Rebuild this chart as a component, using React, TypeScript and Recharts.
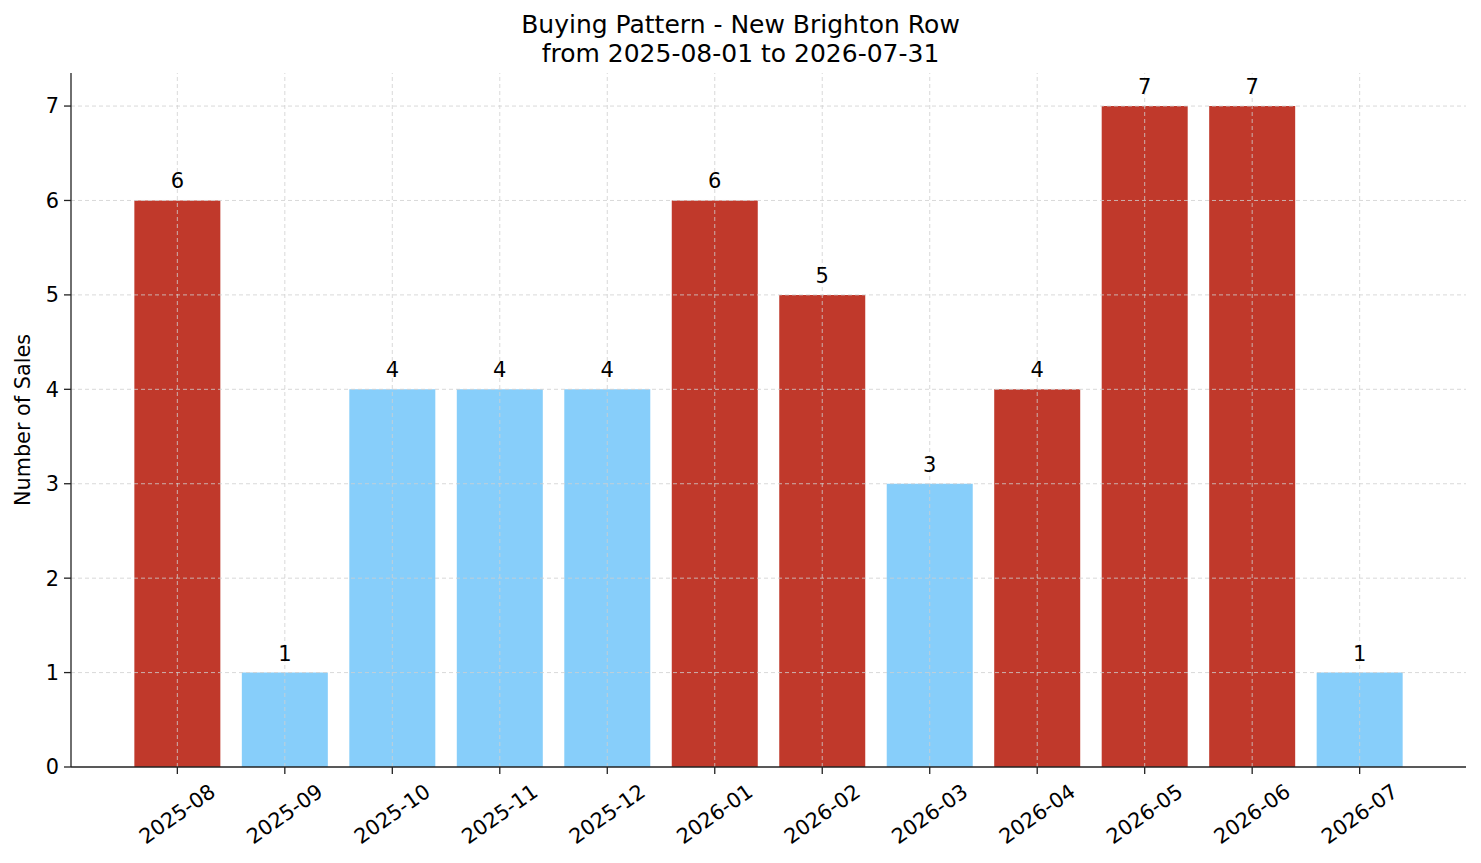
import { BarChart, Bar, XAxis, YAxis, ReferenceLine, LabelList, Cell } from "recharts";

const months = [
  "2025-08", "2025-09", "2025-10", "2025-11", "2025-12", "2026-01",
  "2026-02", "2026-03", "2026-04", "2026-05", "2026-06", "2026-07",
];
const sales = [6, 1, 4, 4, 4, 6, 5, 3, 4, 7, 7, 1];
// months drawn in red (higher sales), the rest light blue
const highlighted = [true, false, false, false, false, true, true, false, true, true, true, false];
const yTicks = [0, 1, 2, 3, 4, 5, 6, 7];

const HIGH = "#c0392b";
const LOW = "#87cefa";
const FONT = "DejaVu Sans, sans-serif";

const data = months.map((m, i) => ({ month: m, sales: sales[i], high: highlighted[i] }));

const XTick = (props: any) => {
  const { x, y, payload } = props;
  return (
    <g transform={`translate(${x},${y + 38})`}>
      <text
        transform="rotate(-35)"
        textAnchor="middle"
        dominantBaseline="central"
        fontSize={20.8}
        fontFamily={FONT}
        fill="#000"
      >
        {payload.value}
      </text>
    </g>
  );
};

export default function App() {
  return (
    <div style={{ position: "absolute", left: 0, top: 0, width: 1481, height: 863, background: "#fff", fontFamily: FONT }}>
      <div style={{ position: "absolute", left: 0, width: 1481, top: 10, textAlign: "center", fontSize: 25, lineHeight: "29px", color: "#000" }}>
        Buying Pattern - New Brighton Row
        <br />
        from 2025-08-01 to 2026-07-31
      </div>
      <div
        style={{
          position: "absolute",
          left: 23,
          top: 420,
          transform: "translate(-50%, -50%) rotate(-90deg)",
          fontSize: 20.8,
          whiteSpace: "nowrap",
          color: "#000",
        }}
      >
        Number of Sales
      </div>
      <BarChart
        width={1481}
        height={863}
        data={data}
        margin={{ top: 73, right: 15, bottom: 0, left: 0 }}
        barCategoryGap="10%"
        style={{ position: "absolute", left: 0, top: 0 }}
      >
        <XAxis
          dataKey="month"
          padding={{ left: 52.6, right: 52.6 }}
          stroke="#222"
          strokeWidth={1.3}
          tickSize={7}
          tickLine={{ stroke: "#222" }}
          tick={<XTick />}
          interval={0}
          height={96}
        />
        <YAxis
          width={71}
          domain={[0, 7.35]}
          ticks={yTicks}
          stroke="#222"
          strokeWidth={1.3}
          tickSize={7}
          tickMargin={5}
          tick={{ fill: "#000", fontSize: 20.8, fontFamily: FONT }}
          allowDataOverflow
        />
        <Bar dataKey="sales" isAnimationActive={false}>
          {data.map((d) => (
            <Cell key={d.month} fill={d.high ? HIGH : LOW} />
          ))}
          <LabelList dataKey="sales" position="top" offset={12} fill="#000" fontSize={21} fontFamily={FONT} />
        </Bar>
        {yTicks.slice(1).map((v) => (
          <ReferenceLine key={`y${v}`} y={v} stroke="#cfcfcf" strokeDasharray="4 3" strokeWidth={0.8} />
        ))}
        {months.map((m) => (
          <ReferenceLine key={`x${m}`} x={m} stroke="#cfcfcf" strokeDasharray="4 3" strokeWidth={0.8} />
        ))}
      </BarChart>
    </div>
  );
}
